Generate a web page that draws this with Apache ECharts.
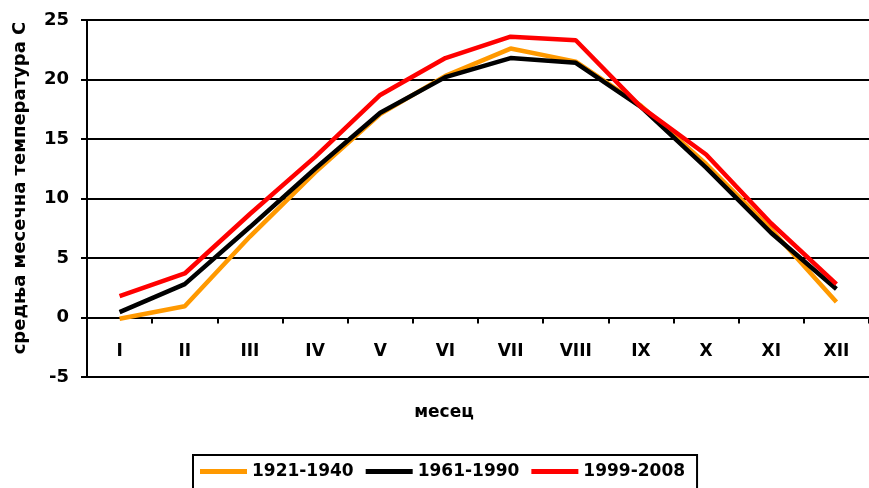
<!DOCTYPE html>
<html>
<head>
<meta charset="utf-8">
<script src="https://cdn.jsdelivr.net/npm/echarts@6/dist/echarts.min.js"></script>
<style>html,body{margin:0;padding:0;background:#fff}#c{width:869px;height:488px}</style>
</head>
<body>
<div id="c"></div>
<script>
const months = ['I','II','III','IV','V','VI','VII','VIII','IX','X','XI','XII'];
const s1921 = [-0.1, 0.95, 6.8, 12.2, 17.1, 20.3, 22.6, 21.5, 17.8, 12.9, 7.4, 1.3];
const s1961 = [0.45, 2.8, 7.6, 12.5, 17.2, 20.2, 21.8, 21.4, 17.7, 12.6, 7.1, 2.4];
const s1999 = [1.8, 3.7, 8.7, 13.5, 18.7, 21.8, 23.6, 23.3, 17.7, 13.7, 7.9, 2.8];
const seriesNames = ['1921-1940', '1961-1990', '1999-2008'];
const xTitle = 'месец';
const yTitle = 'средња месечна температура С';

const FONT = 'DejaVu Sans';
const chart = echarts.init(document.getElementById('c'), null, {renderer: 'canvas'});
function line(name, data, color) {
  return {name, type: 'line', data, symbol: 'none', lineStyle: {color, width: 4.5}, itemStyle: {color}, animation: false};
}
chart.setOption({
  animation: false,
  grid: {left: 87, top: 20, right: -10, bottom: 111, containLabel: false},
  xAxis: {
    type: 'category', data: months, boundaryGap: true,
    axisLine: {onZero: true, lineStyle: {color: '#000', width: 2}},
    axisTick: {show: true, length: 6, lineStyle: {color: '#000', width: 2}},
    axisLabel: {color: '#000', fontFamily: FONT, fontWeight: 'bold', fontSize: 17, margin: -34}
  },
  yAxis: {
    type: 'value', min: -5, max: 25, interval: 5,
    axisLine: {show: true, lineStyle: {color: '#000', width: 2}},
    axisTick: {show: true, length: 6, lineStyle: {color: '#000', width: 2}},
    axisLabel: {color: '#000', fontFamily: FONT, fontWeight: 'bold', fontSize: 18, margin: 18},
    splitLine: {show: true, lineStyle: {color: '#000', width: 2}}
  },
  legend: {
    left: 193, top: 455,
    data: seriesNames,
    icon: 'rect', itemWidth: 47, itemHeight: 5, itemGap: 12,
    padding: [8, 12, 14, 7],
    borderColor: '#000', borderWidth: 2,
    textStyle: {color: '#000', fontFamily: FONT, fontWeight: 'bold', fontSize: 17}
  },
  graphic: [
    {type: 'text', x: 444, y: 413,
     style: {text: xTitle, fill: '#000', font: 'bold 17px "DejaVu Sans"', align: 'center', verticalAlign: 'middle'}},
    {type: 'text', x: 20, y: 188, rotation: Math.PI / 2,
     style: {text: yTitle, fill: '#000', font: 'bold 18px "DejaVu Sans"', align: 'center', verticalAlign: 'middle'}}
  ],
  series: [
    line(seriesNames[0], s1921, '#FF9900'),
    line(seriesNames[1], s1961, '#000000'),
    line(seriesNames[2], s1999, '#FF0000')
  ]
});
</script>
</body>
</html>
